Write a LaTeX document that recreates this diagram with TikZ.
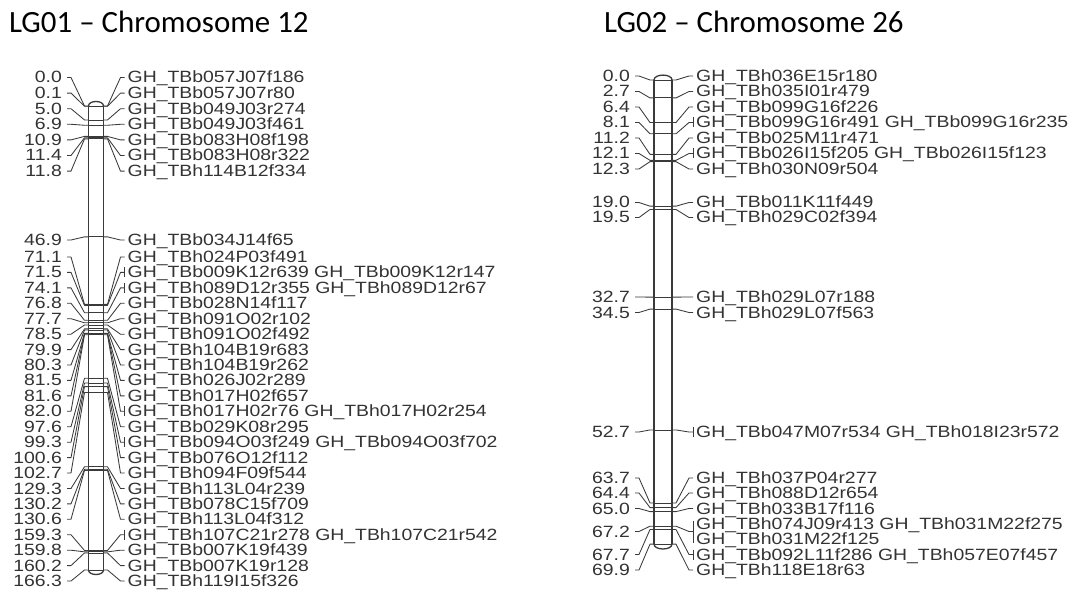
\documentclass[tikz,border=0pt]{standalone}
\usepackage{fontspec}
\setmainfont{Liberation Sans}
\newfontfamily\titlefont{Carlito}
\newfontfamily\labfont[FakeStretch=1.19]{Liberation Sans}
\definecolor{ink}{HTML}{333333}
\definecolor{lineink}{HTML}{3A3A3A}
\tikzset{
  titlelab/.style={font=\titlefont\fontsize{30.9}{34}\selectfont, text=black, inner sep=0pt, anchor=base west},
  genelab/.style={font=\labfont\fontsize{16.3}{18}\selectfont, text=ink, inner sep=0pt, anchor=base west},
  numlab/.style={font=\labfont\fontsize{16.3}{18}\selectfont, text=ink, inner sep=0pt, anchor=base east},
  conn/.style={draw=lineink, line width=0.85pt, line join=round},
  barline/.style={draw=lineink, line width=1.3pt},
  mline/.style={draw=lineink, line width=0.85pt}
}
% #1 prefix, #2 bar left, #3 bar right, #4 y of 0, #5 scale, #6 number x, #7 label x, #8 list
\newcommand\drawchrom[8]{%
 \foreach \mpos/\mly/\mry/\mtxt/\mtk [count=\ci] in {#8}{%
   \pgfmathsetmacro\my{#4+#5*\mpos}
   \node[numlab] (#1n\ci) at (#6,\mly+5.5) {\mpos};
   \node[genelab] (#1g\ci) at (#7,\mry+5.5) {\mtxt};
   \coordinate (#1l\ci) at (#2,\my);
   \coordinate (#1r\ci) at (#3,\my);
   \coordinate (#1a\ci) at (#6+5,\mly);
   \coordinate (#1b\ci) at (#7-3,\mry);
   \draw[mline] (#1l\ci) -- (#1r\ci);
   \draw[conn] (#1a\ci) -- ([xshift=4pt]#1a\ci) -- ([xshift=-4pt]#1l\ci) -- (#1l\ci);
   \draw[conn] (#1r\ci) -- ([xshift=4pt]#1r\ci) -- ([xshift=-4pt]#1b\ci) -- (#1b\ci);
   \ifnum\mtk=1\relax \draw[conn] ([yshift=5pt]#1b\ci) -- ([yshift=-5pt]#1b\ci);\fi
   \ifnum\mtk=2\relax \draw[conn] ([yshift=11pt]#1b\ci) -- ([yshift=-11pt]#1b\ci);\fi
 }}
\begin{document}
\begin{tikzpicture}[x=1pt,y=-1pt]
\useasboundingbox (0,0) rectangle (1075,593);
\fill[white] (0,0) rectangle (1075,593);

\node[titlelab] (title1) at (9,33) {LG01 – Chromosome 12};
\node[titlelab] (title2) at (604,33) {LG02 – Chromosome 26};

% ---------- LG01 ----------
\draw[barline] (88.5,106) -- (88.5,570);
\draw[barline] (103.5,106) -- (103.5,570);
\draw[barline] (88.5,106) .. controls (88.5,100) and (103.5,100) .. (103.5,106);
\draw[barline] (88.5,570) .. controls (88.5,576) and (103.5,576) .. (103.5,570);

\drawchrom{A}{88.5}{103.5}{106}{2.79}{62}{127.5}{
0.0/77.5/77.5/{GH\_TBb057J07f186}/0,
0.1/93.1/93.1/{GH\_TBb057J07r80}/0,
5.0/108.7/108.7/{GH\_TBb049J03r274}/0,
6.9/124.3/124.3/{GH\_TBb049J03f461}/0,
10.9/139.9/139.9/{GH\_TBb083H08f198}/0,
11.4/155.5/155.5/{GH\_TBb083H08r322}/0,
11.8/171.1/171.1/{GH\_TBh114B12f334}/0,
46.9/240/240/{GH\_TBb034J14f65}/0,
71.1/257/257/{GH\_TBh024P03f491}/0,
71.5/272.4/272.4/{GH\_TBb009K12r639 GH\_TBb009K12r147}/1,
74.1/287.9/287.9/{GH\_TBh089D12r355 GH\_TBh089D12r67}/1,
76.8/303.3/303.3/{GH\_TBb028N14f117}/0,
77.7/318.7/318.7/{GH\_TBh091O02r102}/0,
78.5/334.2/334.2/{GH\_TBh091O02f492}/0,
79.9/349.6/349.6/{GH\_TBh104B19r683}/0,
80.3/365/365/{GH\_TBh104B19r262}/0,
81.5/380.4/380.4/{GH\_TBh026J02r289}/0,
81.6/395.9/395.9/{GH\_TBh017H02f657}/0,
82.0/411.3/411.3/{GH\_TBh017H02r76 GH\_TBh017H02r254}/1,
97.6/426.7/426.7/{GH\_TBb029K08r295}/0,
99.3/442.2/442.2/{GH\_TBb094O03f249 GH\_TBb094O03f702}/1,
100.6/457.6/457.6/{GH\_TBb076O12f112}/0,
102.7/473/473/{GH\_TBh094F09f544}/0,
129.3/488.5/488.5/{GH\_TBh113L04r239}/0,
130.2/503.9/503.9/{GH\_TBb078C15f709}/0,
130.6/519.3/519.3/{GH\_TBh113L04f312}/0,
159.3/534.7/534.7/{GH\_TBh107C21r278 GH\_TBh107C21r542}/1,
159.8/550.2/550.2/{GH\_TBb007K19f439}/0,
160.2/565.6/565.6/{GH\_TBb007K19r128}/0,
166.3/581/581/{GH\_TBh119I15f326}/0}

% ---------- LG02 ----------
\draw[barline] (654,80) -- (654,544.1);
\draw[barline] (672,80) -- (672,544.1);
\draw[barline] (654,80) .. controls (654,73.5) and (672,73.5) .. (672,80);
\draw[barline] (654,544.1) .. controls (654,550.6) and (672,550.6) .. (672,544.1);

\drawchrom{B}{654}{672}{80}{6.64}{630}{696}{
0.0/76/76/{GH\_TBh036E15r180}/0,
2.7/91.5/91.5/{GH\_TBh035I01r479}/0,
6.4/107/107/{GH\_TBb099G16f226}/0,
8.1/122.5/122.5/{GH\_TBb099G16r491 GH\_TBb099G16r235}/1,
11.2/138/138/{GH\_TBb025M11r471}/0,
12.1/153.5/153.5/{GH\_TBb026I15f205 GH\_TBb026I15f123}/1,
12.3/169/169/{GH\_TBh030N09r504}/0,
19.0/202.5/202.5/{GH\_TBb011K11f449}/0,
19.5/217.5/217.5/{GH\_TBh029C02f394}/0,
32.7/297/297/{GH\_TBh029L07r188}/0,
34.5/312.5/312.5/{GH\_TBh029L07f563}/0,
52.7/432/432/{GH\_TBb047M07r534 GH\_TBh018I23r572}/1,
63.7/478/478/{GH\_TBh037P04r277}/0,
64.4/493/493/{GH\_TBh088D12r654}/0,
65.0/508.5/508.5/{GH\_TBh033B17f116}/0,
67.2/531.5/531.5/{}/2,
67.7/554.5/554.5/{GH\_TBb092L11f286 GH\_TBh057E07f457}/1,
69.9/570/570/{GH\_TBh118E18r63}/0}
\node[genelab] (B16a) at (696,524+5.5) {GH\_TBh074J09r413 GH\_TBh031M22f275};
\node[genelab] (B16b) at (696,539+5.5) {GH\_TBh031M22f125};
\end{tikzpicture}
\end{document}
